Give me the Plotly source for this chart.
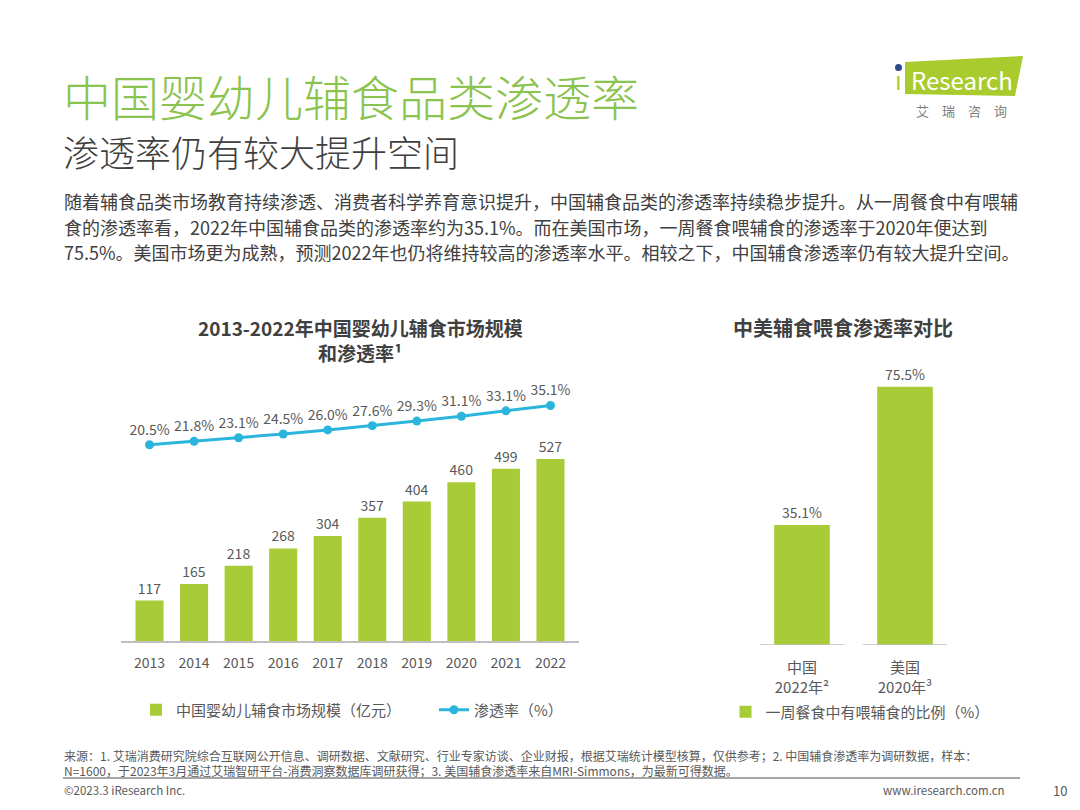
import plotly.graph_objects as go

years = ["2013", "2014", "2015", "2016", "2017", "2018", "2019", "2020", "2021", "2022"]
market_size = [117, 165, 218, 268, 304, 357, 404, 460, 499, 527]
penetration = [20.5, 21.8, 23.1, 24.5, 26.0, 27.6, 29.3, 31.1, 33.1, 35.1]

compare_cats = ["中国<br>2022年²", "美国<br>2020年³"]
compare_vals = [35.1, 75.5]

BAR_GREEN = "#A8CB38"
LINE_BLUE = "#2BB5DC"
TITLE_GREEN = "#8BC34F"
DARK = "#404040"
GREY = "#595959"
FONT = "Noto Sans CJK SC"

# the page body has an 8px margin; compensate so the figure sits at the window origin
OFF = 8
W, H = 1080 - 2 * OFF, 810 - 2 * OFF
def px(x):
    return (x - OFF) / W
def py(y):
    return 1 - (y - OFF) / H

fig = go.Figure()

fig.add_trace(go.Bar(
    x=years, y=market_size, name="中国婴幼儿辅食市场规模（亿元）",
    marker=dict(color=BAR_GREEN, line=dict(width=0)),
    text=market_size, texttemplate="%{y}", textposition="outside",
    textfont=dict(size=14, color=GREY, family=FONT), cliponaxis=False,
    xaxis="x", yaxis="y", legend="legend",
))
fig.add_trace(go.Scatter(
    x=years, y=penetration, name="渗透率（%）", mode="lines+markers+text",
    line=dict(color=LINE_BLUE, width=3), marker=dict(color=LINE_BLUE, size=9),
    text=penetration, texttemplate="%{y:.1f}%", textposition="top center",
    textfont=dict(size=14, color=GREY, family=FONT), cliponaxis=False,
    xaxis="x", yaxis="y2", legend="legend",
))
fig.add_trace(go.Bar(
    x=compare_cats, y=compare_vals, name="一周餐食中有喂辅食的比例（%）",
    marker=dict(color=BAR_GREEN, line=dict(width=0)),
    text=compare_vals, texttemplate="%{y:.1f}%", textposition="outside",
    textfont=dict(size=14, color=GREY, family=FONT), cliponaxis=False,
    width=0.54,
    xaxis="x3", yaxis="y3", legend="legend2",
))

fig.update_layout(
    width=W, height=H,
    margin=dict(l=0, r=0, t=0, b=0),
    paper_bgcolor="white", plot_bgcolor="white",
    font=dict(family=FONT, color=GREY),
    bargap=0.37,
    xaxis=dict(domain=[px(121), px(579)], type="category", showgrid=False,
               showline=True, linecolor="#BFBFBF", linewidth=1.5, ticks="",
               tickfont=dict(size=14, color=GREY), ticklabelstandoff=8,
               anchor="y", fixedrange=True),
    yaxis=dict(domain=[py(641), py(381)], range=[0, 753], visible=False,
               anchor="x", fixedrange=True),
    yaxis2=dict(domain=[py(641), py(381)], range=[-52.5, 44.2], visible=False,
                overlaying="y", anchor="x", fixedrange=True),
    xaxis3=dict(domain=[px(750.5), px(956.5)], type="category", showgrid=False,
                showline=False, ticks="", tickfont=dict(size=15, color=GREY),
                ticklabelstandoff=12, anchor="y3", fixedrange=True),
    yaxis3=dict(domain=[py(645), py(360)], range=[0, 83.3], visible=False,
                anchor="x3", fixedrange=True),
    legend=dict(orientation="h", x=px(136), xanchor="left", y=py(710), yanchor="middle",
                font=dict(size=15, color=GREY, family=FONT), bgcolor="rgba(0,0,0,0)",
                itemwidth=30, traceorder="normal",
                entrywidthmode="pixels", entrywidth=253),
    legend2=dict(orientation="h", x=px(860), xanchor="center", y=py(712), yanchor="middle",
                 font=dict(size=15, color=GREY, family=FONT), bgcolor="rgba(0,0,0,0)",
                 itemwidth=30),
    showlegend=True,
)

shapes = []
for i in range(len(compare_cats)):
    shapes.append(dict(type="line", xref="x3", yref="y3", x0=i - 0.41, x1=i + 0.41,
                       y0=0, y1=0, line=dict(color="#BFBFBF", width=1.5)))
shapes.append(dict(type="line", xref="paper", yref="paper", x0=px(63), x1=px(1020),
                   y0=py(778), y1=py(778), line=dict(color="#A6A6A6", width=2)))
shapes.append(dict(type="path", xref="paper", yref="paper",
                   path=f"M {px(905)} {py(62)} L {px(1023)} {py(56)} L {px(1015)} {py(96)} L {px(905)} {py(94)} Z",
                   fillcolor="#A9CB2E", line=dict(width=0)))
shapes.append(dict(type="circle", xref="paper", yref="paper",
                   x0=px(895), x1=px(902), y0=py(64), y1=py(71),
                   fillcolor="#2C4A8C", line=dict(width=0)))
fig.update_layout(shapes=shapes)

ann = []
def add_text(text, x, y, size, color, xanchor="left", bold=False, yanchor="middle", weight=None):
    f = dict(size=size, color=color, family=FONT)
    if weight is not None:
        f["weight"] = weight
    ann.append(dict(text=f"<b>{text}</b>" if bold else text, x=px(x), y=py(y),
                    xref="paper", yref="paper", xanchor=xanchor, yanchor=yanchor,
                    showarrow=False, font=f))

add_text("中国婴幼儿辅食品类渗透率", 61, 95, 48, TITLE_GREEN, weight=300)
add_text("渗透率仍有较大提升空间", 61, 151, 36, DARK, weight=300)
para = [
    "随着辅食品类市场教育持续渗透、消费者科学养育意识提升，中国辅食品类的渗透率持续稳步提升。从一周餐食中有喂辅",
    "食的渗透率看，2022年中国辅食品类的渗透率约为35.1%。而在美国市场，一周餐食喂辅食的渗透率于2020年便达到",
    "75.5%。美国市场更为成熟，预测2022年也仍将维持较高的渗透率水平。相较之下，中国辅食渗透率仍有较大提升空间。",
]
for i, line in enumerate(para):
    add_text(line, 62, 201 + i * 25.5, 18, DARK)

add_text("2013-2022年中国婴幼儿辅食市场规模", 360, 327, 19, DARK, xanchor="center", bold=True)
add_text("和渗透率¹", 360, 352, 19, DARK, xanchor="center", bold=True)
add_text("中美辅食喂食渗透率对比", 843, 327, 20, DARK, xanchor="center", bold=True)

foot = [
    "来源：1. 艾瑞消费研究院综合互联网公开信息、调研数据、文献研究、行业专家访谈、企业财报，根据艾瑞统计模型核算，仅供参考；2. 中国辅食渗透率为调研数据，样本：",
    "N=1600，于2023年3月通过艾瑞智研平台-消费洞察数据库调研获得；3. 美国辅食渗透率来自MRI-Simmons，为最新可得数据。",
]
for i, line in enumerate(foot):
    add_text(line, 62, 755 + i * 15.5, 12, GREY)
add_text("©2023.3 iResearch Inc.", 62, 790, 11.5, GREY)
add_text("www.iresearch.com.cn", 1007, 790, 11.5, GREY, xanchor="right")
add_text("10", 1060, 790, 13, GREY, xanchor="center")

add_text("Research", 909, 79, 24, "white")
ann.append(dict(text="ı", x=px(898.5), y=py(82), xref="paper", yref="paper", xanchor="center",
                yanchor="middle", showarrow=False,
                font=dict(size=24, color="#A9CB2E", family="DejaVu Sans")))
add_text("艾　瑞　咨　询", 961, 111, 13, "#7F7F7F", xanchor="center")

fig.update_layout(annotations=ann)
fig.write_html("out.html")
